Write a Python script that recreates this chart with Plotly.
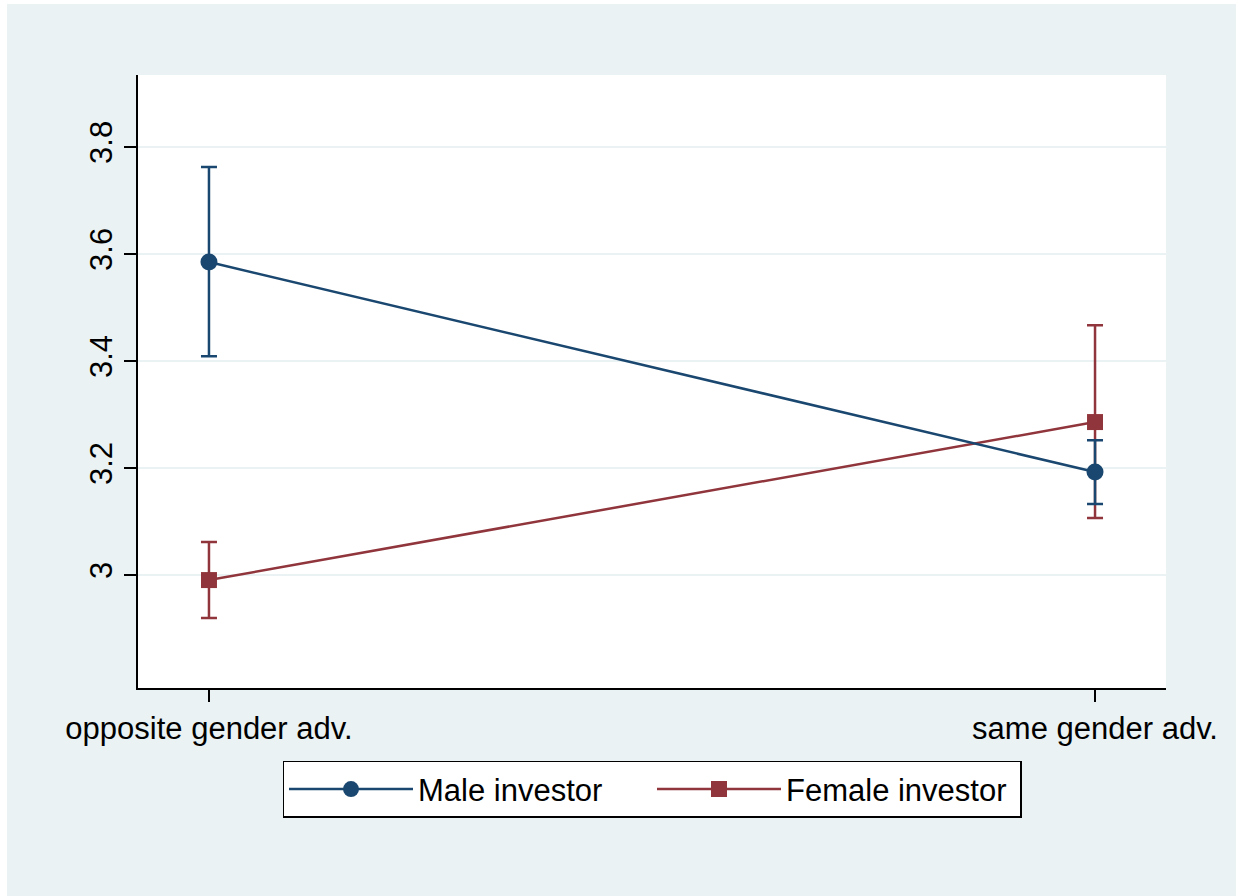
import plotly.graph_objects as go

categories = ["opposite gender adv.", "same gender adv."]
cat_pos = [0, 1]

male_mean = [3.585, 3.1925]
male_hi = [3.7626, 3.252]
male_lo = [3.409, 3.133]

female_mean = [2.9907, 3.286]
female_hi = [3.062, 3.467]
female_lo = [2.920, 3.1065]

ytick_vals = [3.0, 3.2, 3.4, 3.6, 3.8]
ytick_text = ["3", "3.2", "3.4", "3.6", "3.8"]

NAVY = "#1A476F"
MAROON = "#90353B"
BG = "#EAF2F3"
FONT = "Liberation Sans, Arial, sans-serif"


def err(mean, hi, lo):
    return dict(
        type="data",
        symmetric=False,
        array=[h - m for h, m in zip(hi, mean)],
        arrayminus=[m - l for m, l in zip(mean, lo)],
        thickness=2.5,
        width=8,
    )


fig = go.Figure()
fig.add_trace(go.Scatter(
    x=cat_pos, y=female_mean, mode="lines+markers", name="Female investor",
    line=dict(color=MAROON, width=2.5),
    marker=dict(symbol="square", size=16, color=MAROON),
    error_y=dict(color=MAROON, **err(female_mean, female_hi, female_lo)),
    legendrank=2,
))
fig.add_trace(go.Scatter(
    x=cat_pos, y=male_mean, mode="lines+markers", name="Male investor",
    line=dict(color=NAVY, width=2.5),
    marker=dict(symbol="circle", size=17, color=NAVY),
    error_y=dict(color=NAVY, **err(male_mean, male_hi, male_lo)),
    legendrank=1,
))

fig.update_layout(
    width=1236, height=896,
    margin=dict(l=138, r=70, t=75, b=208),
    paper_bgcolor=BG,
    plot_bgcolor="white",
    font=dict(family=FONT, size=31, color="black"),
    showlegend=True,
    legend=dict(
        orientation="h", x=0.5, xanchor="center", y=-0.119, yanchor="top",
        bgcolor="white", bordercolor="black", borderwidth=1.5,
        font=dict(family=FONT, size=31, color="black"),
        itemwidth=124,
        entrywidth=229, entrywidthmode="pixels",
    ),
    xaxis=dict(
        range=[-0.0801, 1.0801],
        tickvals=cat_pos, ticktext=categories,
        showgrid=False, zeroline=False,
        showline=True, linecolor="black", linewidth=2,
        ticks="outside", ticklen=12, tickwidth=2, tickcolor="black",
        tickfont=dict(family=FONT, size=31, color="black"),
    ),
    yaxis=dict(
        range=[2.789, 3.9346],
        tickvals=ytick_vals, ticktext=ytick_text,
        tickangle=-90,
        showgrid=True, gridcolor=BG, gridwidth=2,
        zeroline=False,
        showline=True, linecolor="black", linewidth=2,
        ticks="outside", ticklen=12, tickwidth=2, tickcolor="black",
        tickfont=dict(family=FONT, size=31, color="black"),
    ),
    shapes=[
        dict(type="rect", xref="paper", yref="paper",
             x0=-138 / 1028, x1=-131 / 1028, y0=-208 / 613, y1=(613 + 75) / 613,
             fillcolor="white", line=dict(width=0), layer="above"),
        dict(type="rect", xref="paper", yref="paper",
             x0=-138 / 1028, x1=(1028 + 70) / 1028, y0=(613 + 71) / 613, y1=(613 + 75) / 613,
             fillcolor="white", line=dict(width=0), layer="above"),
    ],
)

fig.write_html("out.html")
